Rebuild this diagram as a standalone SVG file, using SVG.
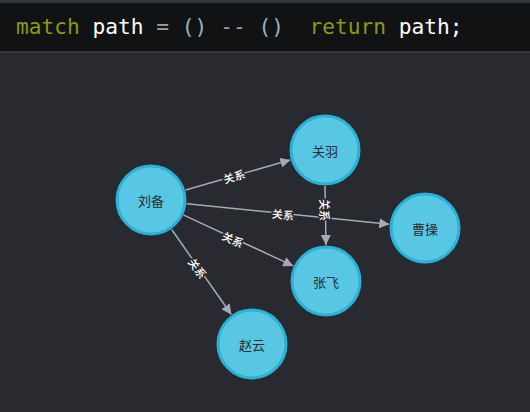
<svg xmlns="http://www.w3.org/2000/svg" width="530" height="412" viewBox="0 0 530 412">
<defs>
<style>
.node circle{fill:#57c7e3;stroke:#2bb1d6;stroke-width:3}
.node text{font-family:"Noto Sans CJK SC","Noto Sans",sans-serif;font-size:13px;fill:#2a2d33;text-anchor:middle;dominant-baseline:central}
.edge line{stroke:#a5abb6;stroke-width:1.5;marker-end:url(#arr)}
.lbl{font-family:"Noto Sans CJK SC","Noto Sans",sans-serif;font-size:11px;font-weight:500;fill:#ffffff;stroke:#282a30;stroke-width:3;paint-order:stroke;text-anchor:middle;dominant-baseline:central}
.code{font-family:"DejaVu Sans Mono",monospace;font-size:21.2px;white-space:pre}
</style>
<marker id="arr" viewBox="0 0 10 10" refX="10" refY="5" markerWidth="10" markerHeight="10" markerUnits="userSpaceOnUse" orient="auto">
<path d="M0,0 L10,5 L0,10 z" fill="#a5abb6"/>
</marker>
</defs>
<rect x="0" y="0" width="530" height="412" fill="#282a30"/>
<rect x="0" y="0" width="530" height="3" fill="#31343a"/>
<rect x="0" y="3" width="530" height="48" fill="#111213"/>
<rect x="0" y="51" width="530" height="2" fill="#34373d"/>
<text class="code" x="16" y="34" xml:space="preserve"><tspan fill="#8a9a12">match</tspan><tspan fill="#ffffff"> path </tspan><tspan fill="#9aa0a6">=</tspan><tspan fill="#8fb2c4"> ()</tspan><tspan fill="#9aa0a6"> -- </tspan><tspan fill="#8fb2c4">()</tspan><tspan fill="#8a9a12">  return</tspan><tspan fill="#ffffff"> path;</tspan></text>
<g id="connectors">
<g class="edge"><line x1="185.6" y1="190" x2="290.4" y2="159.9"/><text class="lbl" transform="translate(234,176) rotate(-16)">关系</text></g>
<g class="edge"><line x1="186.8" y1="203.7" x2="389.2" y2="224.3"/><text class="lbl" transform="translate(283,214) rotate(5.8)">关系</text></g>
<g class="edge"><line x1="183.7" y1="215.1" x2="293.3" y2="265.9"/><text class="lbl" transform="translate(233,239) rotate(24.8)">关系</text></g>
<g class="edge"><line x1="171.7" y1="229.5" x2="231.3" y2="314.5"/><text class="lbl" transform="translate(198,268) rotate(54.9)">关系</text></g>
<g class="edge"><line x1="325" y1="186" x2="326" y2="245"/><text class="lbl" transform="translate(325,210) rotate(90)">关系</text></g>
</g>
<g id="node-liubei" class="node"><circle cx="151" cy="200" r="34"/><text x="151" y="200">刘备</text></g>
<g id="node-guanyu" class="node"><circle cx="325" cy="150" r="34"/><text x="325" y="150">关羽</text></g>
<g id="node-caocao" class="node"><circle cx="425" cy="228" r="34"/><text x="425" y="228">曹操</text></g>
<g id="node-zhangfei" class="node"><circle cx="326" cy="281" r="34"/><text x="326" y="281">张飞</text></g>
<g id="node-zhaoyun" class="node"><circle cx="252" cy="344" r="34"/><text x="252" y="344">赵云</text></g>
</svg>
